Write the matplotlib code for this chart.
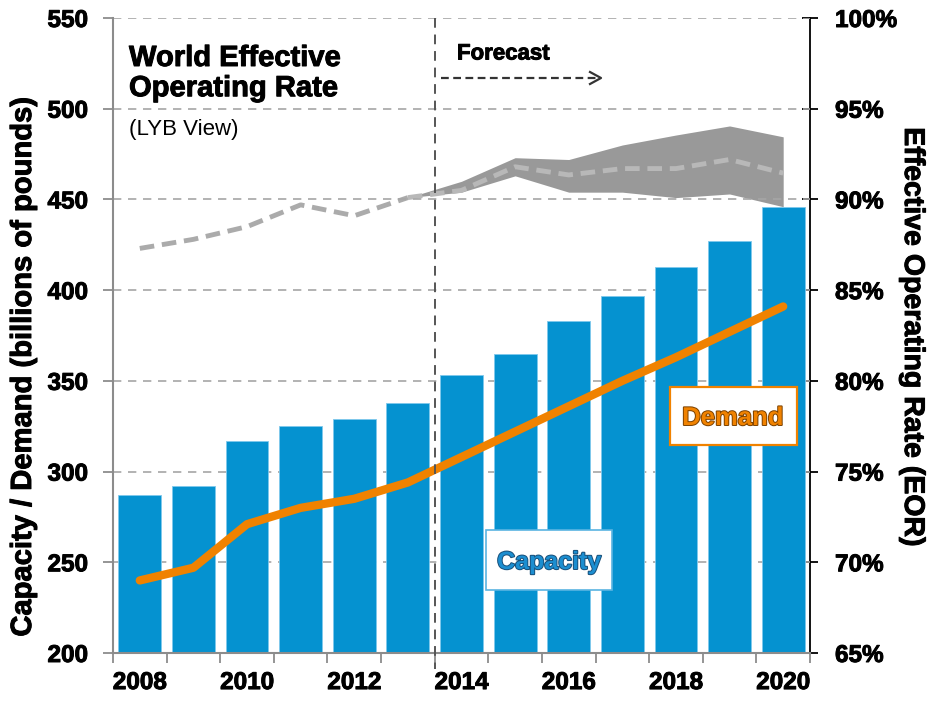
import matplotlib
matplotlib.use("Agg")
import matplotlib.pyplot as plt
import matplotlib.patheffects as pe
from matplotlib.patches import Rectangle
from matplotlib.ticker import FixedLocator

# ---------------- data ----------------
years = [2008, 2009, 2010, 2011, 2012, 2013, 2014, 2015, 2016, 2017, 2018, 2019, 2020]
capacity = [287, 292, 317, 325, 329, 338, 353, 365, 383, 397, 413, 427, 446]
demand = [240, 247, 271, 280, 285, 294, 308, 322, 336, 350, 363, 377, 391]
eor = [87.3, 87.8, 88.5, 89.7, 89.1, 90.1, 90.5, 91.8, 91.35, 91.7, 91.7, 92.2, 91.45]
band_years = [2013, 2014, 2015, 2016, 2017, 2018, 2019, 2020]
band_upper = [90.1, 91.0, 92.3, 92.2, 93.0, 93.55, 94.05, 93.45]
band_lower = [90.1, 90.4, 91.3, 90.4, 90.4, 90.1, 90.3, 89.6]
year_labels = ["2008", "", "2010", "", "2012", "", "2014", "", "2016", "", "2018", "", "2020"]
left_ticks = [200, 250, 300, 350, 400, 450, 500, 550]
right_ticks = [65, 70, 75, 80, 85, 90, 95, 100]
forecast_start = 2014

# ---------------- style ----------------
W, H = 931, 702
FONT = "Liberation Sans"
plt.rcParams["font.family"] = [FONT, "DejaVu Sans"]
BLUE = "#0592D0"
ORANGE = "#F08200"
GRID = "#A6A6A6"
HEAVY = [pe.withStroke(linewidth=0.7, foreground="black")]

fig = plt.figure(figsize=(W / 100, H / 100), dpi=100)
L, R, T, B = 113, 810, 18, 653
ax = fig.add_axes([L / W, 1 - B / H, (R - L) / W, (B - T) / H])
ax2 = ax.twinx()

def fx(x):
    return x / W

def fy(y):
    return 1 - y / H

idx = list(range(len(years)))
pos = {y: i for i, y in enumerate(years)}

# left axis
ax.set_xlim(-0.5, len(years) - 0.5)
ax.set_ylim(left_ticks[0], left_ticks[-1])
ax.set_yticks(left_ticks)
for t in left_ticks[1:]:
    ax.axhline(t, color=GRID, lw=1.2, ls=(0, (5, 4)), zorder=0)
ax.bar(idx, capacity, width=0.8, color=BLUE, edgecolor="#7FC8EC", linewidth=0.6, zorder=2)
ax.plot(idx, demand, color=ORANGE, lw=6, solid_capstyle="round", solid_joinstyle="round", zorder=4)

ax.set_xticks(idx)
ax.set_xticklabels(year_labels)
ax.xaxis.set_minor_locator(FixedLocator([i - 0.5 for i in range(len(years) + 1)]))
ax.tick_params(axis="x", which="major", length=0, pad=13, labelsize=17.5)
ax.tick_params(axis="x", which="minor", length=7, width=1.3, color="#8C8C8C", direction="out")
ax.tick_params(axis="y", length=7, width=1.3, color="#8C8C8C", pad=11, labelsize=17.5)
for lab in ax.get_xticklabels() + ax.get_yticklabels():
    lab.set_fontweight("bold")
    lab.set_path_effects(HEAVY)

ax.spines["top"].set_visible(False)
ax2.spines["top"].set_visible(False)
ax.spines["left"].set_color("#8C8C8C")
ax.spines["left"].set_linewidth(1.5)
ax.spines["bottom"].set_color("#8C8C8C")
ax.spines["bottom"].set_linewidth(1.5)
ax.spines["right"].set_visible(False)
ax2.spines["left"].set_visible(False)
ax2.spines["bottom"].set_visible(False)
ax2.spines["right"].set_color("black")
ax2.spines["right"].set_linewidth(1.3)

# right axis
ax2.set_ylim(right_ticks[0], right_ticks[-1])
ax2.set_yticks(right_ticks)
ax2.set_yticklabels([f"{t}%" for t in right_ticks])
ax2.tick_params(axis="y", direction="inout", length=12, width=1.3, color="black", pad=12, labelsize=17.5)
for lab in ax2.get_yticklabels():
    lab.set_fontweight("bold")
    lab.set_path_effects(HEAVY)

bx = [pos[y] for y in band_years]
ax2.fill_between(bx, band_lower, band_upper, color="#999999", lw=0, zorder=1)
n_hist = pos[forecast_start]
ax2.plot(idx[:n_hist], eor[:n_hist], color="#ABABAB", lw=3.5, ls=(0, (3, 1.6)), zorder=3)
ax2.plot(idx[n_hist - 1:], eor[n_hist - 1:], color="#B8B8B8", lw=3.5, ls=(0, (3, 1.6)), zorder=3)
ax.set_zorder(2)
ax.patch.set_visible(False)
ax2.set_zorder(1)

# forecast divider
xdiv = pos[forecast_start] - 0.5
ax.plot([xdiv, xdiv], [1.0, -0.025], color="#555555", lw=1.4, ls=(0, (5, 3.5)),
        transform=ax.get_xaxis_transform(), clip_on=False, zorder=5)

# axis labels
fig.text(fx(23), fy(367), "Capacity / Demand (billions of pounds)", rotation=90,
         ha="center", va="center", fontsize=21, fontweight="bold", path_effects=HEAVY)
fig.text(fx(912), fy(337), "Effective Operating Rate (EOR)", rotation=-90,
         ha="center", va="center", fontsize=20.5, fontweight="bold", path_effects=HEAVY)

# title block
fig.text(fx(129), fy(44), "World Effective\nOperating Rate", ha="left", va="top",
         fontsize=21, fontweight="bold", linespacing=1.1, path_effects=HEAVY)
fig.text(fx(129), fy(119), "(LYB View)", ha="left", va="top", fontsize=16)

# forecast annotation
fig.text(fx(457), fy(54), "Forecast", ha="left", va="center", fontsize=16, fontweight="bold",
         path_effects=HEAVY)
fig.add_artist(plt.Line2D([fx(441), fx(598)], [fy(78), fy(78)], color="#333333", lw=1.6,
                          ls=(0, (3.5, 2))))
fig.add_artist(plt.Line2D([fx(590), fx(601), fx(590)], [fy(72), fy(78), fy(84)], color="#333333",
                          lw=1.6))

# label boxes
fig.add_artist(Rectangle((fx(486), fy(590)), fx(612) - fx(486), fy(530) - fy(590),
                         transform=fig.transFigure, facecolor="white", edgecolor="#5AB4E2", lw=1.2, zorder=6))
fig.text(fx(549), fy(562), "Capacity", ha="center", va="center", fontsize=18, fontweight="bold",
         color="#1C8ED0", zorder=7,
         path_effects=[pe.withStroke(linewidth=1.4, foreground="#1A4F78")])
fig.add_artist(Rectangle((fx(670), fy(445)), fx(797) - fx(670), fy(387) - fy(445),
                         transform=fig.transFigure, facecolor="white", edgecolor=ORANGE, lw=1.6, zorder=6))
fig.text(fx(733), fy(418), "Demand", ha="center", va="center", fontsize=18.5, fontweight="bold",
         color=ORANGE, zorder=7,
         path_effects=[pe.withStroke(linewidth=1.4, foreground="#7A4000")])

fig.savefig("out.png", dpi=100)
